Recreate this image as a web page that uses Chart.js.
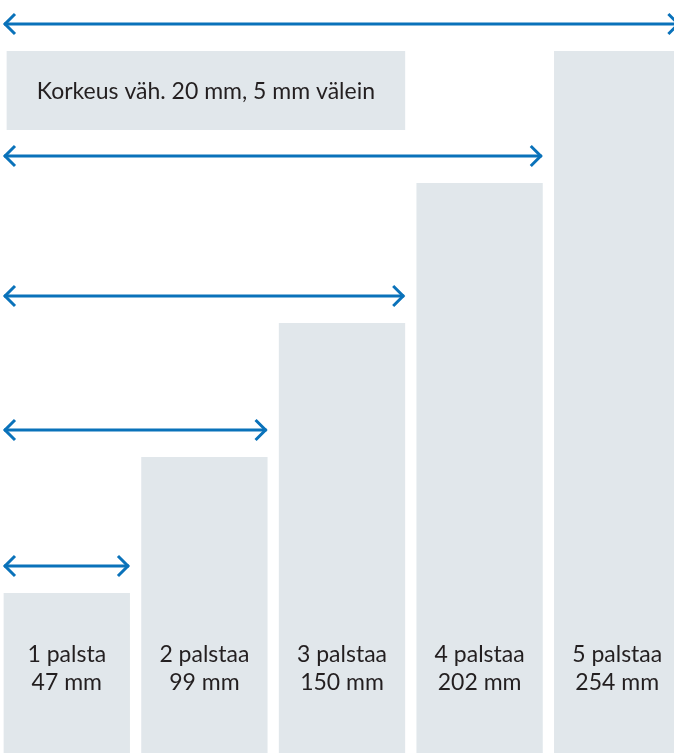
<!DOCTYPE html>
<html>
<head>
<meta charset="utf-8">
<script src="https://cdn.jsdelivr.net/npm/chart.js@4.4.0/dist/chart.umd.min.js"></script>
<style>
  html, body { margin: 0; padding: 0; background: #fff; overflow: hidden; }
  #wrap { position: relative; left: -2px; width: 688px; height: 753px; }
</style>
</head>
<body>
<div id="wrap"><canvas id="chart"></canvas></div>
<script>
// palstat ja leveydet
const columns = ['1 palsta', '2 palstaa', '3 palstaa', '4 palstaa', '5 palstaa'];
const widthsMm = [47, 99, 150, 202, 254];
// palkkien korkeus kuvassa (suhteellinen)
const heights = [160, 296, 430, 570, 702];
const note = 'Korkeus väh. 20 mm, 5 mm välein';

const barColor = '#e1e7eb';
const arrowColor = '#0a72ba';
const textColor = '#231f20';
const font = '23px Lato, "Noto Sans", sans-serif';

// nuolet ja tekstit
const decor = {
  id: 'decor',
  afterDatasetsDraw(chart) {
    const ctx = chart.ctx;
    const bars = chart.getDatasetMeta(0).data;
    const left = chart.chartArea.left + 6;

    ctx.save();
    // labels inside bars
    ctx.fillStyle = textColor;
    ctx.font = font;
    ctx.textAlign = 'center';
    ctx.textBaseline = 'middle';
    bars.forEach((b, i) => {
      ctx.fillText(columns[i], b.x, 655);
      ctx.fillText(widthsMm[i] + ' mm', b.x, 683);
    });

    // arrows
    ctx.strokeStyle = arrowColor;
    ctx.lineWidth = 3;
    ctx.lineCap = 'butt';
    bars.forEach((b, i) => {
      const y = b.y - 27;
      const right = b.x + b.width / 2 - 1;
      ctx.beginPath();
      ctx.moveTo(left, y);
      ctx.lineTo(right, y);
      ctx.stroke();
      ctx.beginPath();
      ctx.moveTo(left + 11, y - 10);
      ctx.lineTo(left + 1, y);
      ctx.lineTo(left + 11, y + 10);
      ctx.moveTo(right - 11, y - 10);
      ctx.lineTo(right - 1, y);
      ctx.lineTo(right - 11, y + 10);
      ctx.stroke();
    });

    // note box
    const top = bars[4].y;
    const bx = bars[0].x - bars[0].width / 2 + 3;
    const bw = bars[2].x + bars[2].width / 2 - bx;
    ctx.fillStyle = barColor;
    ctx.fillRect(bx, top, bw, 79);
    ctx.fillStyle = textColor;
    ctx.fillText(note, bx + bw / 2, top + 41);
    ctx.restore();
  }
};

new Chart(document.getElementById('chart'), {
  type: 'bar',
  data: {
    labels: columns,
    datasets: [{
      data: heights,
      backgroundColor: barColor,
      borderWidth: 0,
      barPercentage: 0.918,
      categoryPercentage: 1
    }]
  },
  options: {
    responsive: true,
    maintainAspectRatio: false,
    animation: false,
    layout: { padding: 0 },
    plugins: { legend: { display: false }, tooltip: { enabled: false } },
    scales: {
      x: { display: false },
      y: { display: false, min: 0, max: 753 }
    }
  },
  plugins: [decor]
});
</script>
</body>
</html>
